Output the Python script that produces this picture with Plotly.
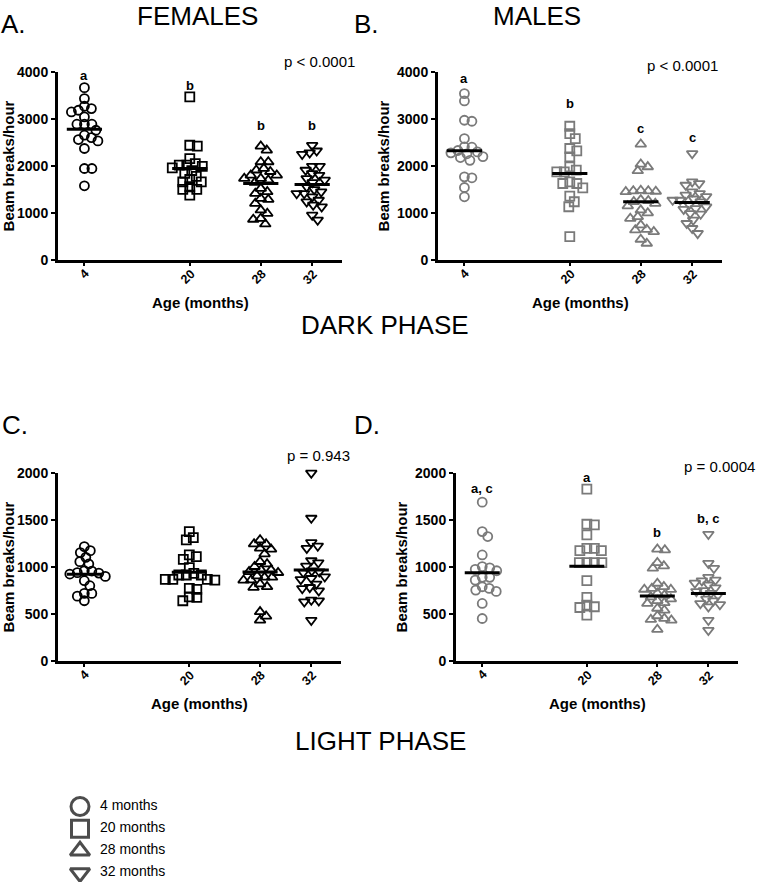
import numpy as np
import plotly.graph_objects as go

# ---------------- data ----------------
AGES = ["4", "20", "28", "32"]
LEGEND_LABELS = ["4 months", "20 months", "28 months", "32 months"]

F_DARK_4 = [3667, 3434, 3271, 3221, 3186, 3150, 3044, 2889, 2889, 2889, 2761, 2655, 2605, 2563, 2534, 2372, 1947, 1947, 1579]
F_DARK_20 = [3469, 2442, 2421, 2159, 2050, 2018, 2018, 1990, 1960, 1841, 1900, 1780, 1664, 1664, 1713, 1501, 1501, 1558, 1381]
F_DARK_28 = [2421, 2336, 2088, 2088, 1947, 1912, 1880, 1805, 1735, 1700, 1735, 1805, 1522, 1451, 1416, 1288, 1310, 1204, 1062, 1650, 885, 864, 991, 765]
F_DARK_32 = [2442, 2322, 2251, 2280, 1996, 1996, 1912, 1805, 1841, 1735, 1700, 1650, 1416, 1451, 1416, 1345, 1274, 1239, 1133, 1170, 850, 956, 1500, 1560]
F_DARK_MEAN = [2782, 1947, 1628, 1607]
F_DARK_LETTERS = ["a", "b", "b", "b"]

M_DARK_4 = [3540, 3384, 2952, 2973, 2584, 2407, 2300, 2280, 2260, 2330, 2400, 2180, 2120, 2200, 1770, 1749, 1543, 1345]
M_DARK_20 = [2846, 2690, 2584, 2372, 2322, 2195, 1982, 1912, 1876, 1876, 1628, 1536, 1628, 1664, 1359, 1239, 1133, 496]
M_DARK_28 = [2464, 1982, 1897, 2039, 1451, 1470, 1480, 1460, 1470, 1239, 1204, 1260, 1280, 885, 920, 1062, 602, 637, 651, 743, 354, 439, 1150, 1000]
M_DARK_32 = [2265, 1628, 1593, 1664, 1416, 1381, 1450, 1274, 1274, 1240, 1133, 1097, 1080, 991, 980, 779, 850, 566, 673, 1350, 1180, 1300]
M_DARK_MEAN = [2322, 1841, 1239, 1225]
M_DARK_LETTERS = ["a", "b", "c", "c"]

F_LIGHT_4 = [1217, 1153, 1174, 1103, 1057, 1032, 957, 940, 935, 960, 925, 900, 854, 801, 719, 719, 690, 641]
F_LIGHT_20 = [1377, 1313, 1288, 1128, 1110, 1082, 993, 915, 915, 932, 915, 868, 861, 868, 868, 772, 762, 683, 676, 641]
F_LIGHT_28 = [1245, 1288, 1245, 1189, 1139, 1057, 1032, 1004, 968, 950, 968, 904, 890, 861, 890, 790, 783, 860, 523, 434, 477, 1200, 940, 820]
F_LIGHT_32 = [2000, 1520, 1224, 1260, 1199, 1046, 1068, 1010, 950, 960, 940, 868, 897, 879, 772, 783, 747, 648, 641, 630, 434, 820]
F_LIGHT_MEAN = [922, 943, 947, 968]
F_LIGHT_LETTERS = ["", "", "", ""]

M_LIGHT_4 = [1690, 1377, 1324, 1128, 990, 1004, 975, 861, 890, 890, 960, 754, 772, 790, 740, 612, 452]
M_LIGHT_20 = [1829, 1448, 1455, 1342, 1199, 1174, 1174, 1199, 1046, 1046, 1046, 1046, 854, 676, 577, 569, 594, 488]
M_LIGHT_28 = [1189, 1181, 1046, 986, 1011, 772, 762, 790, 826, 701, 680, 641, 612, 620, 541, 452, 434, 441, 335, 720, 560, 480, 760, 660]
M_LIGHT_32 = [1349, 1039, 986, 861, 890, 854, 810, 740, 720, 750, 612, 640, 577, 600, 434, 327, 700, 660, 780, 830]
M_LIGHT_MEAN = [939, 1009, 691, 718]
M_LIGHT_LETTERS = ["a, c", "a", "b", "b, c"]

P_TEXTS = ["p < 0.0001", "p < 0.0001", "p = 0.943", "p = 0.0004"]

# ---------------- layout helpers ----------------
W, H = 758, 882
FONT = "Liberation Sans, Arial, Helvetica, sans-serif"
GRAY = "#7a7a7a"
SYMBOLS = ["circle-open", "square-open", "triangle-up-open", "triangle-down-open"]
POS = [0.93, 4.64, 7.14, 8.95]
HALF = 0.62


def px_x(p):
    return p / W


def px_y(p):
    return 1 - p / H


# panel geometry in pixels: (x0, x1, ytop, ybottom)
PANELS = [
    dict(name="A", geo=(58, 342, 72, 260), ymax=4000, dtick=1000, color="black",
         groups=[F_DARK_4, F_DARK_20, F_DARK_28, F_DARK_32], mean=F_DARK_MEAN,
         letters=F_DARK_LETTERS, letter_y=[3936, 3723, 2872, 2872],
         p=P_TEXTS[0], p_px=(319, 61, "center")),
    dict(name="B", geo=(438, 722, 72, 260), ymax=4000, dtick=1000, color=GRAY,
         groups=[M_DARK_4, M_DARK_20, M_DARK_28, M_DARK_32], mean=M_DARK_MEAN,
         letters=M_DARK_LETTERS, letter_y=[3872, 3340, 2808, 2617],
         p=P_TEXTS[1], p_px=(682, 66, "center")),
    dict(name="C", geo=(58, 341, 473, 661), ymax=2000, dtick=500, color="black",
         groups=[F_LIGHT_4, F_LIGHT_20, F_LIGHT_28, F_LIGHT_32], mean=F_LIGHT_MEAN,
         letters=F_LIGHT_LETTERS, letter_y=[0, 0, 0, 0],
         p=P_TEXTS[2], p_px=(318, 455, "center")),
    dict(name="D", geo=(456, 738, 473, 661), ymax=2000, dtick=500, color=GRAY,
         groups=[M_LIGHT_4, M_LIGHT_20, M_LIGHT_28, M_LIGHT_32], mean=M_LIGHT_MEAN,
         letters=M_LIGHT_LETTERS, letter_y=[1830, 1957, 1362, 1521],
         p=P_TEXTS[3], p_px=(757, 466, "right")),
]


def swarm(values, center, xs_px, ys_px, d=7.2):
    vals = np.asarray(values, dtype=float)
    order = np.argsort(-vals, kind="stable")
    placed = []
    xs = np.zeros(len(vals))
    for i in order:
        y = vals[i] * ys_px
        chosen = 0.0
        found = False
        for k in range(0, 400):
            offs = [0.0] if k == 0 else [k * 0.5, -k * 0.5]
            for off in offs:
                if all((off - px) ** 2 + (y - py) ** 2 >= d * d for px, py in placed):
                    chosen = off
                    found = True
                    break
            if found:
                break
        placed.append((chosen, y))
        xs[i] = center + chosen / xs_px
    return xs


fig = go.Figure()
annotations = []
layout_axes = {}

for idx, P in enumerate(PANELS):
    n = idx + 1
    xa = "x" if n == 1 else f"x{n}"
    ya = "y" if n == 1 else f"y{n}"
    x0, x1, yt, yb = P["geo"]
    xs_px = (x1 - x0) / 10.0
    ys_px = (yb - yt) / P["ymax"]
    for g, vals in enumerate(P["groups"]):
        xs = swarm(vals, POS[g], xs_px, ys_px)
        fig.add_trace(go.Scatter(
            x=xs, y=vals, xaxis=xa, yaxis=ya, mode="markers",
            marker=dict(symbol=SYMBOLS[g], size=9 if g < 2 else 9.5,
                        color=P["color"], line=dict(width=1.8, color=P["color"])),
            cliponaxis=False, showlegend=False, hoverinfo="skip"))
        fig.add_trace(go.Scatter(
            x=[POS[g] - HALF, POS[g] + HALF], y=[P["mean"][g], P["mean"][g]],
            xaxis=xa, yaxis=ya, mode="lines", line=dict(color="black", width=3),
            cliponaxis=False, showlegend=False, hoverinfo="skip"))
        if P["letters"][g]:
            annotations.append(dict(
                x=POS[g], y=P["letter_y"][g], xref=xa, yref=ya, text=P["letters"][g],
                showarrow=False, xanchor="center", yanchor="middle",
                font=dict(family=FONT, size=13, color="black", weight="bold")))
        # rotated x tick label
        annotations.append(dict(
            x=POS[g], y=0, xref=xa, yref=ya, text=AGES[g], textangle=-45,
            showarrow=False, xanchor="center", yanchor="middle",
            xshift=-2 if len(AGES[g]) > 1 else 0,
            yshift=-17 if len(AGES[g]) > 1 else -14,
            font=dict(family=FONT, size=12.5, color="black", weight="bold")))
    px, py, anchor = P["p_px"]
    annotations.append(dict(
        x=px_x(px), y=px_y(py), xref="paper", yref="paper", text=P["p"],
        showarrow=False, xanchor=anchor, yanchor="middle",
        font=dict(family=FONT, size=15, color="black")))
    # x-axis title
    annotations.append(dict(
        x=(px_x(x0) + px_x(x1)) / 2, y=px_y(yb + 42), xref="paper", yref="paper",
        text="Age (months)", showarrow=False, xanchor="center", yanchor="middle",
        font=dict(family=FONT, size=15, color="black", weight="bold")))

    key_x = "xaxis" if n == 1 else f"xaxis{n}"
    key_y = "yaxis" if n == 1 else f"yaxis{n}"
    layout_axes[key_x] = dict(
        domain=[px_x(x0), px_x(x1)], anchor=ya, range=[0, 10],
        tickmode="array", tickvals=POS, showticklabels=False,
        ticks="outside", ticklen=3, tickwidth=1.5, tickcolor="black",
        showline=True, linewidth=3, linecolor="black", showgrid=False, zeroline=False,
        automargin=False, fixedrange=True)
    layout_axes[key_y] = dict(
        domain=[px_y(yb), px_y(yt)], anchor=xa, range=[0, P["ymax"]],
        tickmode="linear", tick0=0, dtick=P["dtick"],
        ticks="outside", ticklen=4, tickwidth=2, tickcolor="black",
        showline=True, linewidth=3, linecolor="black", showgrid=False, zeroline=False,
        tickfont=dict(family=FONT, size=14, color="black", weight="bold"),
        title=dict(text="Beam breaks/hour", standoff=4,
                   font=dict(family=FONT, size=15, color="black", weight="bold")),
        automargin=False, fixedrange=True)

# legend drawn on a hidden axis (pixel-like x, index y)
fig.add_trace(go.Scatter(
    x=[80] * 4, y=list(range(4)), xaxis="x5", yaxis="y5", mode="markers",
    marker=dict(symbol=SYMBOLS, size=[18, 17, 17, 17], color="black",
                line=dict(width=3, color="black")),
    cliponaxis=False, showlegend=False, hoverinfo="skip"))
fig.add_trace(go.Scatter(
    x=[100] * 4, y=list(range(4)), xaxis="x5", yaxis="y5", mode="text",
    text=LEGEND_LABELS, textposition="middle right",
    textfont=dict(family=FONT, size=14, color="black"),
    cliponaxis=False, showlegend=False, hoverinfo="skip"))
layout_axes["xaxis5"] = dict(domain=[0, 0.3], range=[0, 0.3 * W], visible=False,
                             anchor="y5", fixedrange=True)
layout_axes["yaxis5"] = dict(domain=[0, 0.15], range=[3.406, -2.562], visible=False,
                             anchor="x5", fixedrange=True)

# titles: (text, x px, y px, xanchor, yanchor)
TITLES = [("FEMALES", 197, 0, "center", "top"), ("MALES", 537, 0, "center", "top"),
          ("A.", 0, 24, "left", "middle"), ("B.", 353, 24, "left", "middle"),
          ("DARK PHASE", 385, 325, "center", "middle"),
          ("C.", 1, 425, "left", "middle"), ("D.", 353, 425, "left", "middle"),
          ("LIGHT PHASE", 380, 741, "center", "middle")]
for text, tx, ty, anc, vanc in TITLES:
    annotations.append(dict(
        x=px_x(tx), y=px_y(ty), xref="paper", yref="paper", text=text,
        showarrow=False, xanchor=anc, yanchor=vanc, borderpad=0,
        font=dict(family=FONT, size=26, color="black")))

fig.update_layout(
    width=W, height=H, margin=dict(l=0, r=0, t=0, b=0, autoexpand=False),
    paper_bgcolor="white", plot_bgcolor="white",
    font=dict(family=FONT, color="black"),
    annotations=annotations, showlegend=False,
    **layout_axes)

fig.write_html("out.html", config={"displayModeBar": False},
               post_script="document.body.style.margin='0';")
